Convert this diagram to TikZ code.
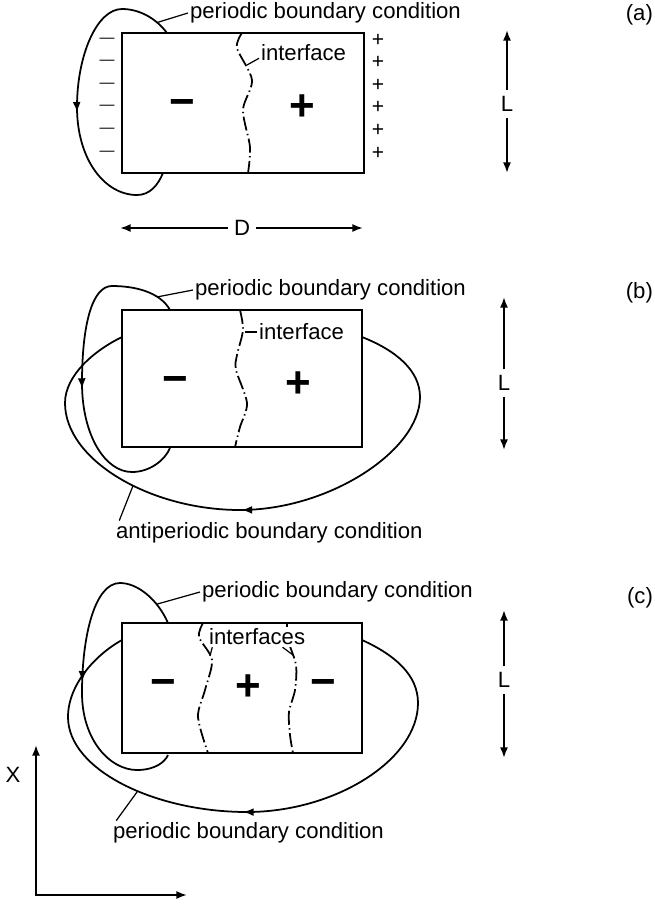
\documentclass[tikz,border=0pt]{standalone}
\usepackage{fontspec}
\setmainfont{Liberation Sans}
\usetikzlibrary{arrows.meta,decorations.markings}
\newcommand\lab{\fontsize{12.6}{14}\selectfont}
\tikzstyle{box} = [draw, line width=1.5pt]
\tikzstyle{loop} = [draw, line width=1pt]
\tikzstyle{iface} = [draw, line width=1pt, dash pattern=on 8pt off 2pt on 0.8pt off 2pt]
\tikzstyle{line} = [draw, line width=1pt, -{Latex[length=6pt,width=4.5pt]}]
\tikzstyle{leader} = [draw, line width=0.7pt]
\tikzstyle{txt} = [inner sep=1pt]
\tikzstyle{sign} = [font=\fontsize{25}{25}\selectfont\bfseries, inner sep=0pt]
\tikzstyle{smallsign} = [font=\fontsize{12}{12}\selectfont, inner sep=0pt]
\tikzset{midarrow/.style={postaction={decorate},
    decoration={markings, mark=at position #1 with {\arrow{Latex[length=6pt,width=4.5pt]}}}}}
\begin{document}
\begin{tikzpicture}[x=0.02cm, y=-0.02cm, font=\lab]
        \useasboundingbox (0,0) rectangle (655,904);
        % Panel (a)
        \draw[box] (122,33) rectangle (364,173);
        \draw[iface] plot[smooth] coordinates {(242,33) (237,48) (252,80) (243,110) (250,147) (248,173)};
        \node[txt, anchor=west] (ifa) at (259,53) {interface};
        \coordinate (ifa1) at (247,65);
        \draw[leader] ([yshift=-3pt]ifa.west) -- (ifa1);
        \foreach \y in {40,62,85,107,130,153} {
            \node[smallsign] (ma\y) at (107,\y) {\fontsize{8.5}{8.5}\selectfont —};
            \node[smallsign] (pa\y) at (378,\y) {+};
        }
        \node[sign] (minusa) at (182,108) {−};
        \node[sign] (plusa) at (302,108) {+};
        \draw[loop, midarrow=0.54] (167,33) .. controls (155,17) and (138,9) .. coordinate[pos=0.25] (lpa) (122,9)
            .. controls (97,9) and (77,55) .. (77,107) .. controls (77,160) and (105,195) .. (137,195)
            .. controls (150,195) and (158,185) .. (163,173);
        \node[txt, anchor=west] (pbca) at (188,13) {periodic boundary condition};
        \draw[leader] (lpa) -- (pbca.west);
        \node[txt, anchor=east] (taga) at (655,15) {(a)};
        \node (La) at (507,104) {L};
        \coordinate (La1) at (507,30);
        \coordinate (La2) at (507,173);
        \path[line] (La) -- (La1);
        \path[line] (La) -- (La2);
        \node (Da) at (242,228) {D};
        \coordinate (Da1) at (120,228);
        \coordinate (Da2) at (363,228);
        \path[line] (Da) -- (Da1);
        \path[line] (Da) -- (Da2);
        % Panel (b)
        \draw[box] (122,310) rectangle (362,447);
        \draw[iface] plot[smooth] coordinates {(240,310) (243,330) (237,355) (236,370) (247,403) (240,427) (235,447)};
        \node[txt, anchor=west] (ifb) at (257,332) {interface};
        \coordinate (ifb1) at (245,332);
        \draw[leader] (ifb.west) -- (ifb1);
        \node[sign] (minusb) at (175,385) {−};
        \node[sign] (plusb) at (298,385) {+};
        \draw[loop, midarrow=0.54] (170,310) .. controls (160,292) and (135,286) .. coordinate[pos=0.3] (lpb) (112,286)
            .. controls (92,286) and (82,325) .. (82,383) .. controls (82,435) and (105,472) .. (132,472)
            .. controls (150,472) and (165,460) .. (170,448);
        \draw[loop, midarrow=0.5] (362,337) .. controls (395,350) and (420,370) .. (420,397)
            .. controls (420,450) and (330,510) .. (240,510)
            .. controls (150,510) and (65,460) .. coordinate[pos=0.43] (lab) (65,403)
            .. controls (65,375) and (95,350) .. (122,337);
        \node[txt, anchor=west] (pbcb) at (193,290) {periodic boundary condition};
        \draw[leader] (lpb) -- (pbcb.west);
        \node[txt, anchor=west] (apbc) at (114,533) {antiperiodic boundary condition};
        \draw[leader] (lab) -- ([xshift=3pt]apbc.north west);
        \node[txt, anchor=east] (tagb) at (655,293) {(b)};
        \node (Lb) at (504,383) {L};
        \coordinate (Lb1) at (504,297);
        \coordinate (Lb2) at (504,450);
        \path[line] (Lb) -- (Lb1);
        \path[line] (Lb) -- (Lb2);
        % Panel (c)
        \draw[box] (122,623) rectangle (362,753);
        \draw[iface] plot[smooth] coordinates {(203,623) (199,637) (212,660) (205,690) (198,717) (208,753)};
        \draw[iface] plot[smooth] coordinates {(287,623) (288,640) (296,665) (295,690) (289,712) (290,735) (293,753)};
        \node[txt, anchor=west, fill=white] (ifc) at (207,637) {interfaces};
        \coordinate (ifc1) at (210,656);
        \coordinate (ifc2) at (293,655);
        \draw[leader] ([xshift=3pt]ifc.south west) -- (ifc1);
        \draw[leader] ([xshift=-14pt]ifc.south east) -- (ifc2);
        \node[sign] (minusc) at (163,688) {−};
        \node[sign] (plusc) at (248,688) {+};
        \node[sign] (minusc2) at (323,688) {−};
        \draw[loop, midarrow=0.54] (168,623) .. controls (158,600) and (138,583) .. coordinate[pos=0.3] (lpc) (120,583)
            .. controls (95,583) and (82,635) .. (82,693) .. controls (82,740) and (110,770) .. (137,770)
            .. controls (155,770) and (165,762) .. (168,755);
        \draw[loop, midarrow=0.5] (362,640) .. controls (395,655) and (418,675) .. (418,703)
            .. controls (418,760) and (335,812) .. (247,812)
            .. controls (155,812) and (68,770) .. coordinate[pos=0.43] (lcc) (68,717)
            .. controls (68,685) and (95,655) .. (122,640);
        \node[txt, anchor=west] (pbcc) at (200,592) {periodic boundary condition};
        \draw[leader] (lpc) -- (pbcc.west);
        \node[txt, anchor=west] (pbcd) at (111,833) {periodic boundary condition};
        \draw[leader] (lcc) -- ([xshift=3pt]pbcd.north west);
        \node[txt, anchor=east] (tagc) at (655,598) {(c)};
        \node (Lc) at (504,680) {L};
        \coordinate (Lc1) at (504,610);
        \coordinate (Lc2) at (504,758);
        \path[line] (Lc) -- (Lc1);
        \path[line] (Lc) -- (Lc2);
        % Axes
        \node (xlab) at (13,775) {X};
        \coordinate (xtip) at (36,745);
        \coordinate (ytip) at (187,895);
        \draw[line, {Latex[length=6pt,width=4.5pt]}-{Latex[length=6pt,width=4.5pt]}] (xtip) |- (ytip);
\end{tikzpicture}
\end{document}
